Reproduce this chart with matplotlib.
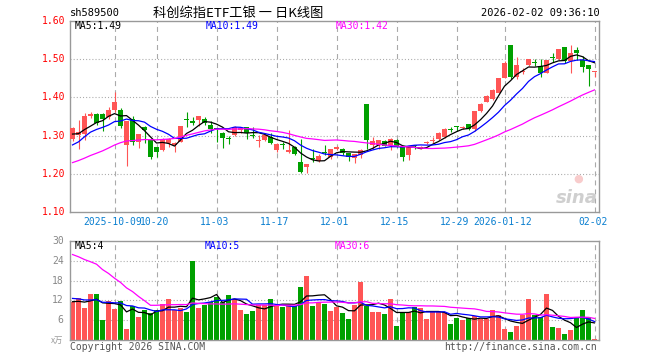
import matplotlib
matplotlib.use('Agg')
import matplotlib.pyplot as plt
import numpy as np
import pandas as pd

plt.rcParams['lines.scale_dashes'] = False

# ---------------- data ----------------
code = "sh589500"
title = "科创综指ETF工银 一 日K线图"
timestamp = "2026-02-02 09:36:10"

holidays = ["2025-10-01", "2025-10-02", "2025-10-03", "2025-10-06", "2025-10-07",
            "2025-10-08", "2026-01-01", "2026-01-02"]
start_date = "2025-09-22"
end_date = "2026-02-02"

tick_dates = ["2025-10-09", "2025-10-20", "2025-11-03", "2025-11-17", "2025-12-01",
              "2025-12-15", "2025-12-29", "2026-01-12", "2026-02-02"]
tick_labels = ["2025-10-09", "10-20", "11-03", "11-17", "12-01",
               "12-15", "12-29", "2026-01-12", "02-02"]

opens = [1.290, 1.302, 1.303, 1.351, 1.357, 1.357, 1.350, 1.367, 1.367, 1.276,
         1.344, 1.282, 1.322, 1.289, 1.269, 1.262, 1.280, 1.275, 1.284, 1.344,
         1.338, 1.341, 1.343, 1.328, 1.318, 1.308, 1.292, 1.302, 1.315, 1.323,
         1.301, 1.287, 1.288, 1.296, 1.262, 1.276, 1.258, 1.271, 1.232, 1.219,
         1.240, 1.234, 1.257, 1.245, 1.265, 1.265, 1.254, 1.241, 1.249, 1.383,
         1.276, 1.275, 1.286, 1.273, 1.289, 1.273, 1.249, 1.274, 1.266, 1.280,
         1.287, 1.290, 1.297, 1.316, 1.323, 1.321, 1.330, 1.317, 1.364, 1.389,
         1.396, 1.412, 1.452, 1.537, 1.454, 1.466, 1.485, 1.490, 1.482, 1.465,
         1.503, 1.500, 1.533, 1.494, 1.524, 1.498, 1.485, 1.466]
highs = [1.323, 1.340, 1.358, 1.363, 1.358, 1.358, 1.376, 1.415, 1.372, 1.337,
         1.352, 1.304, 1.325, 1.292, 1.271, 1.293, 1.293, 1.282, 1.326, 1.363,
         1.348, 1.352, 1.350, 1.339, 1.320, 1.309, 1.299, 1.326, 1.322, 1.323,
         1.322, 1.302, 1.304, 1.306, 1.280, 1.284, 1.315, 1.273, 1.290, 1.226,
         1.265, 1.251, 1.275, 1.265, 1.272, 1.267, 1.255, 1.253, 1.265, 1.383,
         1.297, 1.289, 1.288, 1.293, 1.290, 1.274, 1.271, 1.276, 1.272, 1.286,
         1.297, 1.310, 1.320, 1.322, 1.326, 1.326, 1.330, 1.364, 1.386, 1.405,
         1.423, 1.450, 1.494, 1.537, 1.507, 1.478, 1.500, 1.500, 1.500, 1.498,
         1.517, 1.526, 1.533, 1.537, 1.533, 1.508, 1.485, 1.467]
lows = [1.287, 1.265, 1.289, 1.346, 1.329, 1.313, 1.344, 1.363, 1.319, 1.220,
        1.276, 1.267, 1.280, 1.240, 1.243, 1.260, 1.271, 1.256, 1.283, 1.322,
        1.328, 1.325, 1.328, 1.306, 1.284, 1.267, 1.277, 1.300, 1.307, 1.290,
        1.293, 1.271, 1.285, 1.278, 1.258, 1.266, 1.254, 1.249, 1.201, 1.201,
        1.232, 1.232, 1.249, 1.240, 1.262, 1.250, 1.234, 1.229, 1.241, 1.265,
        1.266, 1.266, 1.272, 1.263, 1.270, 1.234, 1.236, 1.265, 1.264, 1.278,
        1.280, 1.288, 1.295, 1.310, 1.313, 1.318, 1.314, 1.311, 1.363, 1.388,
        1.394, 1.411, 1.451, 1.447, 1.447, 1.460, 1.483, 1.481, 1.454, 1.463,
        1.493, 1.499, 1.491, 1.465, 1.498, 1.467, 1.430, 1.453]
closes = [1.320, 1.310, 1.352, 1.357, 1.332, 1.344, 1.367, 1.388, 1.326, 1.337,
          1.282, 1.304, 1.315, 1.245, 1.257, 1.290, 1.290, 1.281, 1.325, 1.342,
          1.332, 1.351, 1.334, 1.317, 1.316, 1.293, 1.290, 1.323, 1.319, 1.308,
          1.299, 1.289, 1.302, 1.281, 1.278, 1.275, 1.262, 1.252, 1.206, 1.225,
          1.238, 1.247, 1.255, 1.264, 1.271, 1.254, 1.243, 1.252, 1.262, 1.289,
          1.286, 1.288, 1.273, 1.291, 1.271, 1.245, 1.271, 1.272, 1.270, 1.284,
          1.289, 1.308, 1.317, 1.315, 1.322, 1.322, 1.317, 1.364, 1.383, 1.404,
          1.419, 1.450, 1.491, 1.454, 1.485, 1.468, 1.500, 1.489, 1.463, 1.498,
          1.502, 1.526, 1.494, 1.517, 1.517, 1.479, 1.474, 1.467]
volumes = [11.6, 12.6, 9.8, 13.9, 13.9, 6.1, 11.9, 9.4, 11.9, 3.3,
           10.4, 6.9, 9.1, 8.3, 9.1, 10.9, 12.4, 9.1, 9.6, 8.4,
           23.9, 9.8, 10.6, 11.6, 13.1, 11.6, 13.6, 12.3, 9.1, 7.9,
           8.9, 10.6, 10.6, 12.4, 10.6, 10.1, 10.6, 10.3, 16.2, 19.5,
           10.3, 11.6, 10.9, 8.9, 10.1, 8.3, 6.3, 10.6, 17.7, 10.3,
           8.6, 8.6, 7.9, 12.4, 4.2, 8.6, 8.6, 10.1, 9.6, 6.3,
           8.6, 8.6, 8.6, 4.8, 6.8, 6.1, 6.6, 7.3, 6.3, 6.3,
           9.1, 7.6, 3.3, 2.5, 4.2, 7.6, 12.4, 7.6, 6.9, 13.9,
           4.0, 3.5, 1.8, 3.0, 6.6, 9.1, 6.9, 0.3]

# closes / volumes of the 29 sessions before the window (needed for the moving averages)
prior_closes = [1.150, 1.162, 1.148, 1.155, 1.160, 1.145, 1.152, 1.140,
                1.205, 1.248, 1.262, 1.275, 1.258, 1.270, 1.262, 1.255,
                1.232, 1.215, 1.208, 1.222, 1.230, 1.218, 1.236,
                1.262, 1.290, 1.305, 1.298, 1.312, 1.285]
prior_volumes = [33, 35, 34, 36, 55, 47, 53, 50, 53, 44, 51, 48, 50,
                 9, 8, 10, 9, 8, 9, 9, 14, 13, 14, 13, 14, 12, 11, 12, 11.4]

price_ticks = [1.10, 1.20, 1.30, 1.40, 1.50, 1.60]
vol_ticks = [6, 12, 18, 24, 30]

ma_price_labels = ["MA5:1.49", "MA10:1.49", "MA30:1.42"]
ma_vol_labels = ["MA5:4", "MA10:5", "MA30:6"]

# ---------------- derived ----------------
dates = pd.bdate_range(start_date, end_date)
dates = dates[~dates.isin(pd.to_datetime(holidays))]
x = np.arange(len(dates))
tick_pos = [int(np.where(dates == pd.Timestamp(d))[0][0]) for d in tick_dates]

n = len(closes)
fc = pd.Series(prior_closes + closes)
fv = pd.Series(prior_volumes + volumes)
ma = {w: fc.rolling(w).mean().values[-n:] for w in (5, 10, 30)}
mav = {w: fv.rolling(w).mean().values[-n:] for w in (5, 10, 30)}

o = np.array(opens); h = np.array(highs); l = np.array(lows); c = np.array(closes)
v = np.array(volumes)
RED = '#ff5555'
GREEN = '#00a000'
up = c >= o
cols = np.where(up, RED, GREEN)

# ---------------- figure ----------------
W, H = 660, 360
fig = plt.figure(figsize=(W / 100, H / 100), dpi=100)
fig.patch.set_facecolor('white')

def rect(x0, y0, x1, y1):
    return [x0 / W, 1 - y1 / H, (x1 - x0) / W, (y1 - y0) / H]

ax = fig.add_axes(rect(70, 21, 599, 212))
axv = fig.add_axes(rect(70, 241, 599, 340))

xlim = (-0.42, 87.75)
mono = 'DejaVu Sans Mono'
FS = 7
GRID = '#aaaaaa'
FRAME = '#999999'

for a in (ax, axv):
    a.set_xlim(*xlim)
    for s in a.spines.values():
        s.set_color(FRAME)
        s.set_linewidth(1.0)
    a.tick_params(length=0)
    a.set_xticks([])
    a.set_yticks([])
    for tp in tick_pos:
        a.axvline(tp, color=GRID, lw=0.8, ls=(0, (3.6, 2.9)), zorder=0)

# price panel
ax.set_ylim(1.10, 1.60)
for t in price_ticks[1:-1]:
    ax.axhline(t, color=GRID, lw=0.8, ls=(0, (0.75, 1.5)), zorder=0)

ax.vlines(x, l, h, colors=cols, lw=0.8, zorder=2)
body = np.maximum(np.abs(c - o), 0.0026)
ax.bar(x, body, bottom=np.minimum(o, c), width=0.78, color=cols, linewidth=0, zorder=3)

ax.plot(x, ma[5], color='black', lw=0.9, zorder=4)
ax.plot(x, ma[10], color='#0000ff', lw=0.9, zorder=4)
ax.plot(x, ma[30], color='#ff00ff', lw=0.9, zorder=4)

ax.text(0.997, 0.075, 'sina', transform=ax.transAxes, ha='right', va='center',
        fontsize=13, fontweight='bold', fontstyle='italic', color='#cfcfcf', zorder=1)
ax.text(0.96, 0.175, '●', transform=ax.transAxes, ha='center', va='center',
        fontsize=8, color='#f8cccc', zorder=1)

# y labels price
for t in price_ticks:
    ax.text(-0.008, t, f"{t:.2f}", transform=ax.get_yaxis_transform(), ha='right',
            va='center', color='red', fontsize=FS, family=mono)

# date labels (just below the price panel)
xpix = ax.transData
for tp, lab in zip(tick_pos, tick_labels):
    px = 70 + (tp - 0.3 - xlim[0]) / (xlim[1] - xlim[0]) * (599 - 70)
    fig.text(px / W, 1 - 222 / H, lab, ha='center', va='center', color='#0a7fd0',
             fontsize=FS, family=mono)

# volume panel
axv.set_ylim(0, 30)
for t in vol_ticks[:-1]:
    axv.axhline(t, color=GRID, lw=0.8, ls=(0, (0.75, 1.5)), zorder=0)
axv.bar(x, v, width=0.8, color=cols, linewidth=0, zorder=2)
axv.plot(x, mav[5], color='black', lw=0.9, zorder=4)
axv.plot(x, mav[10], color='#0000ff', lw=0.9, zorder=4)
axv.plot(x, mav[30], color='#ff00ff', lw=0.9, zorder=4)
for t in vol_ticks:
    axv.text(-0.012, t, f"{t}", transform=axv.get_yaxis_transform(), ha='right',
             va='center', color='#888888', fontsize=FS, family=mono)
axv.text(-0.012, 0, "x万", transform=axv.get_yaxis_transform(), ha='right',
         va='center', color='#999999', fontsize=6, family=['Noto Sans CJK SC', 'DejaVu Sans'])

# texts in figure pixels
def ftext(px, py, s, **kw):
    fig.text(px / W, 1 - py / H, s, **kw)

ftext(70, 13, code, ha='left', va='center', fontsize=FS + 0.5, family=mono, color='black')
ftext(238, 13, title, ha='center', va='center', fontsize=9.5,
      family=['Noto Sans CJK SC', 'DejaVu Sans'], color='black')
ftext(600, 13, timestamp, ha='right', va='center', fontsize=FS + 0.5, family=mono, color='black')

ftext(75, 26, ma_price_labels[0], ha='left', va='center', fontsize=FS, family=mono, color='black')
ftext(206, 26, ma_price_labels[1], ha='left', va='center', fontsize=FS, family=mono, color='#0000ff')
ftext(336, 26, ma_price_labels[2], ha='left', va='center', fontsize=FS, family=mono, color='#ff00ff')

ftext(75, 246, ma_vol_labels[0], ha='left', va='center', fontsize=FS, family=mono, color='black')
ftext(205, 246, ma_vol_labels[1], ha='left', va='center', fontsize=FS, family=mono, color='#0000ff')
ftext(335, 246, ma_vol_labels[2], ha='left', va='center', fontsize=FS, family=mono, color='#ff00ff')

ftext(70, 347, "Copyright 2026 SINA.COM", ha='left', va='center', fontsize=FS,
      family=mono, color='#555555')
ftext(597, 347, "http://finance.sina.com.cn", ha='right', va='center', fontsize=FS,
      family=mono, color='#555555')

fig.savefig('out.png', dpi=100, facecolor='white')
